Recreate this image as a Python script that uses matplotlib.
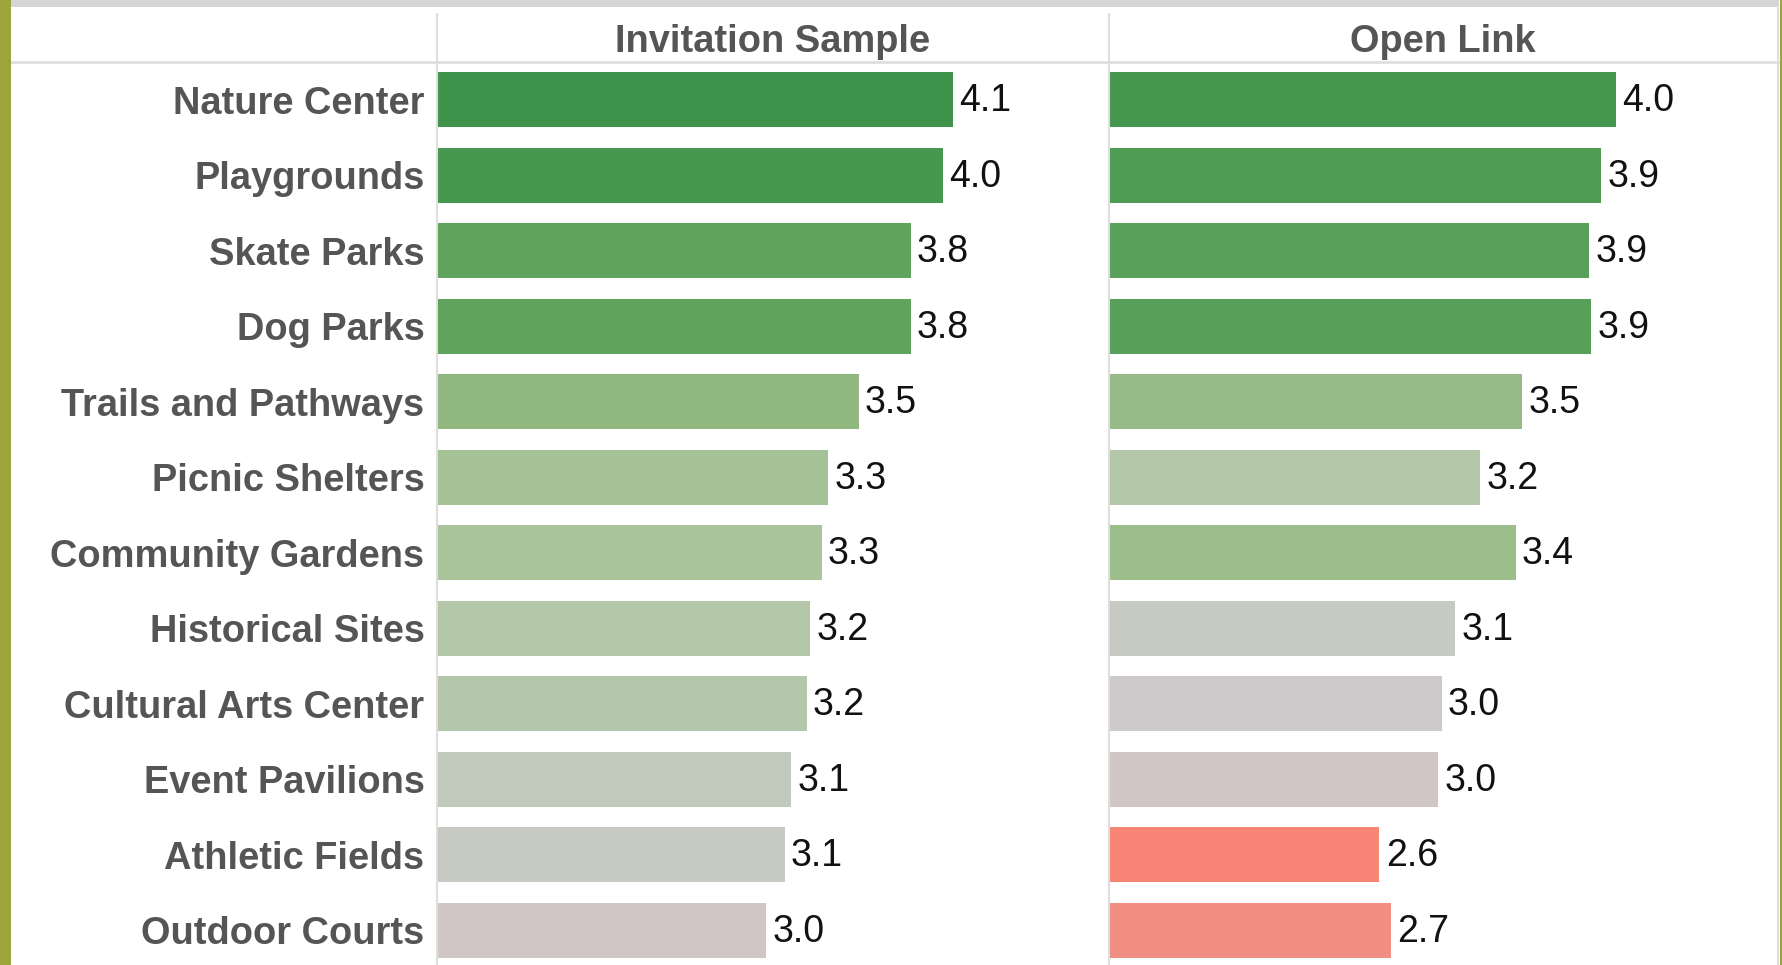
import numpy as np
import matplotlib
matplotlib.use("Agg")
import matplotlib.pyplot as plt
from matplotlib.colors import LinearSegmentedColormap, Normalize
from matplotlib.lines import Line2D
from matplotlib.patches import Rectangle

# ---------------- data ----------------
facilities = ["Nature Center", "Playgrounds", "Skate Parks", "Dog Parks",
              "Trails and Pathways", "Picnic Shelters", "Community Gardens",
              "Historical Sites", "Cultural Arts Center", "Event Pavilions",
              "Athletic Fields", "Outdoor Courts"]
invitation = [4.07, 4.01, 3.82, 3.82, 3.51, 3.33, 3.29, 3.22, 3.20, 3.11, 3.07, 2.96]
open_link = [4.02, 3.93, 3.86, 3.87, 3.46, 3.21, 3.42, 3.06, 2.98, 2.96, 2.61, 2.68]
panel_titles = ["Invitation Sample", "Open Link"]

# ---------------- style ----------------
W, H = 1783, 965
fig = plt.figure(figsize=(W / 100, H / 100), dpi=100)
fig.patch.set_facecolor("white")

vmin, vmax = 2.6, 4.1
stops = [(2.60, "#fa8476"), (2.70, "#ef9288"), (2.95, "#d3c5c4"), (2.98, "#cdcacc"),
         (3.10, "#c4cabf"), (3.20, "#b5c7aa"), (3.30, "#a8c49a"), (3.50, "#92b981"),
         (3.80, "#62a55e"), (3.95, "#4c9b54"), (4.10, "#3d914a")]
cmap = LinearSegmentedColormap.from_list(
    "rg", [((v - vmin) / (vmax - vmin), c) for v, c in stops])
norm = Normalize(vmin, vmax)

def px_x(x):
    return x / W

def px_y(y):
    return 1 - y / H

row_h = 75.5
top = 62
n = len(facilities)
ax_bottom = top + n * row_h
panels = [(437, 1109), (1109, 1781)]
lab_font = "Liberation Sans"
fs = 27.4
grid_c = "#dedede"

# top gray band and side strips
fig.add_artist(Rectangle((px_x(11), px_y(7)), px_x(1779 - 11), 7 / H,
                         transform=fig.transFigure, facecolor="#d5d5d5",
                         edgecolor="none", zorder=0))
fig.add_artist(Rectangle((0, 0), px_x(11), 1, transform=fig.transFigure,
                         facecolor="#9ea43c", edgecolor="none", zorder=5))
fig.add_artist(Rectangle((px_x(1780), 0), px_x(3), 1, transform=fig.transFigure,
                         facecolor="#9ea43c", edgecolor="none", zorder=5))
fig.add_artist(Line2D([px_x(1778.5), px_x(1778.5)], [0, px_y(7)],
                      transform=fig.transFigure, color=grid_c, lw=1.5, zorder=4))
# header separator
fig.add_artist(Line2D([px_x(11), px_x(1779)], [px_y(62), px_y(62)],
                      transform=fig.transFigure, color=grid_c, lw=2, zorder=4))

ypos = np.arange(n)
for k, (vals, (x0, x1)) in enumerate(zip([invitation, open_link], panels)):
    ax = fig.add_axes([px_x(x0), px_y(ax_bottom), px_x(x1 - x0), (ax_bottom - top) / H])
    ax.set_xlim(1, 5)
    ax.set_ylim(n - 0.5, -0.5)
    colors = [cmap(norm(v)) for v in vals]
    ax.barh(ypos, vals, height=0.73, color=colors, edgecolor="none", zorder=2)
    for yi, v in zip(ypos, vals):
        ax.annotate(f"{v:.1f}", (v, yi), xytext=(4.5, 1.8), textcoords="offset points",
                    ha="left", va="center_baseline", fontsize=27, family=lab_font,
                    color="#111111", zorder=3, annotation_clip=False)
    for s in ax.spines.values():
        s.set_visible(False)
    ax.tick_params(left=False, bottom=False, labelbottom=False)
    if k == 0:
        ax.set_yticks(ypos)
        ax.set_yticklabels(facilities, fontsize=fs, fontweight="bold",
                           family=lab_font, color="#555555")
        ax.tick_params(axis="y", pad=5.5)
    else:
        ax.set_yticks([])
    ax.patch.set_alpha(0)
    # vertical divider at panel start
    fig.add_artist(Line2D([px_x(x0), px_x(x0)], [0, px_y(14)],
                          transform=fig.transFigure, color=grid_c, lw=1.5, zorder=1))
    xc = (x0 + x1) / 2 if k == 0 else (x0 + 1777) / 2
    fig.text(px_x(xc), px_y(52), panel_titles[k], ha="center",
             va="baseline", fontsize=fs, fontweight="bold", family=lab_font,
             color="#555555")

fig.savefig("out.png", dpi=100, facecolor="white")
